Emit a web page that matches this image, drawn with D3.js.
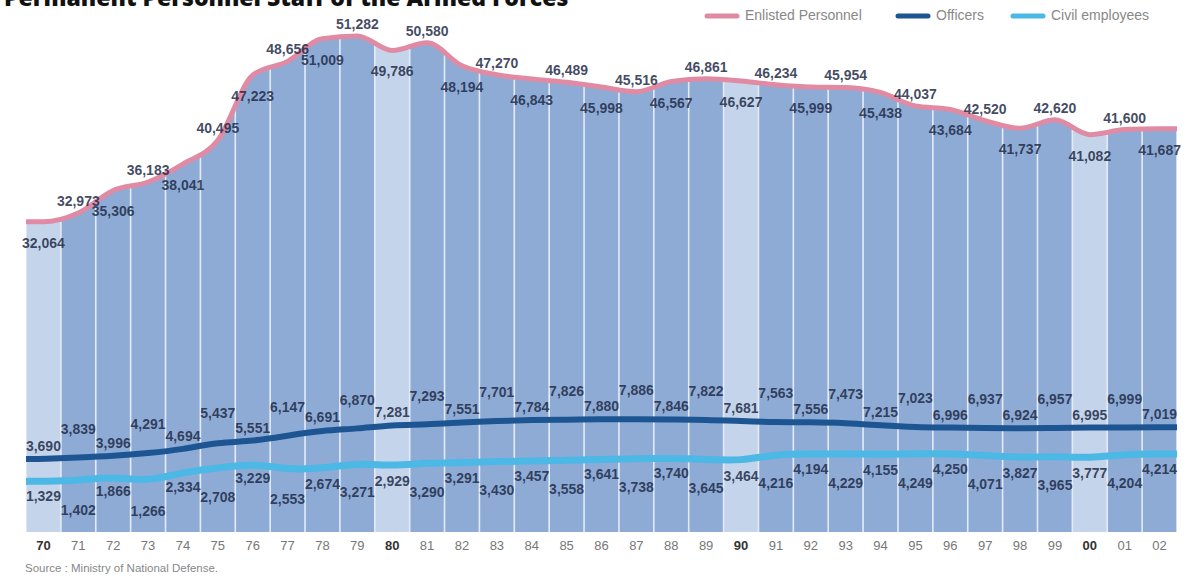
<!DOCTYPE html>
<html><head><meta charset="utf-8">
<script src="https://cdn.jsdelivr.net/npm/d3@7"></script>
<style>
html,body{margin:0;padding:0;background:#fff;}
svg{display:block;}
</style></head>
<body>
<svg id="chart" width="1192" height="578"></svg>
<script>
const years = ['70','71','72','73','74','75','76','77','78','79','80','81','82','83','84','85','86','87','88','89','90','91','92','93','94','95','96','97','98','99','00','01','02'];
const decadeYears = ['70','80','90','00'];
const enlisted = [32064,32973,35306,36183,38041,40495,47223,48656,51009,51282,49786,50580,48194,47270,46843,46489,45998,45516,46567,46861,46627,46234,45999,45954,45438,44037,43684,42520,41737,42620,41082,41600,41687];
const officers = [3690,3839,3996,4291,4694,5437,5551,6147,6691,6870,7281,7293,7551,7701,7784,7826,7880,7886,7846,7822,7681,7563,7556,7473,7215,7023,6996,6937,6924,6957,6995,6999,7019];
const civil = [1329,1402,1866,1266,2334,2708,3229,2553,2674,3271,2929,3290,3291,3430,3457,3558,3641,3738,3740,3645,3464,4216,4194,4229,4155,4249,4250,4071,3827,3965,3777,4204,4214];
const seriesNames = ['Enlisted Personnel','Officers','Civil employees'];
const titleText = 'Permanent Personnel Staff of the Armed Forces';
const sourceText = 'Source : Ministry of National Defense.';

const C = {pink:'#e08ba3', navy:'#1c5592', cyan:'#4cb8e6', col:'#8eabd6', colLight:'#c4d4ea', gap:'#e4ebf6', label:'#1f2c48'};

const svg = d3.select('#chart');
const x = d3.scaleBand().domain(years).range([26,1177]).padding(0);
const bw = x.bandwidth();
const yBig = d3.scaleLinear().domain([0,55000]).range([532,0]);
const ySmall = d3.scaleLinear().domain([0,10000]).range([494,399]);
const fmt = d3.format(',');
const cx = y => x(y) + bw/2;

function pts(vals){
  const p = years.map((yr,i)=>({x:cx(yr), v:vals[i]}));
  p.unshift({x:x.range()[0], v:vals[0]});
  p.push({x:x.range()[1], v:vals[vals.length-1]});
  return p;
}

// title (cut off at top, as in the original)
svg.append('text').attr('x',4).attr('y',6).text(titleText)
  .attr('font-family','Open Sans, sans-serif').attr('font-weight',800).attr('font-size',23).attr('fill','#111');

// legend
const legendColors=[C.pink,C.navy,C.cyan];
const legX=[707,898,1013];
seriesNames.forEach((n,i)=>{
  svg.append('line').attr('x1',legX[i]).attr('x2',legX[i]+30).attr('y1',16).attr('y2',16)
    .attr('stroke',legendColors[i]).attr('stroke-width',5).attr('stroke-linecap','round');
  svg.append('text').attr('x',legX[i]+38).attr('y',20).text(n)
    .attr('font-family','Liberation Sans Narrow, sans-serif').attr('font-size',14).attr('fill','#888');
});

// area clip
const ePts = pts(enlisted);
const area = d3.area().x(d=>d.x).y0(yBig(0)).y1(d=>yBig(d.v)).curve(d3.curveMonotoneX);
svg.append('defs').append('clipPath').attr('id','areaClip').append('path').attr('d',area(ePts));
const g = svg.append('g').attr('clip-path','url(#areaClip)');
g.append('rect').attr('x',x.range()[0]).attr('y',0).attr('width',x.range()[1]-x.range()[0]).attr('height',yBig(0)).attr('fill',C.gap);
g.selectAll('rect.col').data(years).join('rect').attr('class','col')
  .attr('x',d=>x(d)+0.8).attr('width',bw-1.6).attr('y',0).attr('height',yBig(0))
  .attr('fill',d=>decadeYears.includes(d)?C.colLight:C.col);

// lines
const lineBig = d3.line().x(d=>d.x).y(d=>yBig(d.v)).curve(d3.curveMonotoneX);
svg.append('path').attr('d',lineBig(ePts)).attr('fill','none').attr('stroke',C.pink).attr('stroke-width',5);
const lineSmall = d3.line().x(d=>d.x).y(d=>ySmall(d.v)).curve(d3.curveBasis);
svg.append('path').attr('d',lineSmall(pts(civil))).attr('fill','none').attr('stroke',C.cyan).attr('stroke-width',7);
svg.append('path').attr('d',lineSmall(pts(officers))).attr('fill','none').attr('stroke',C.navy).attr('stroke-width',6);

// value labels
const lf = 'Liberation Sans Narrow, sans-serif';
function labels(vals, yfn, offEven, offOdd){
  svg.append('g').selectAll('text').data(vals).join('text')
    .attr('x',(d,i)=>cx(years[i])).attr('y',(d,i)=>yfn(d)+(i%2===0?offEven:offOdd))
    .attr('text-anchor','middle').attr('font-family',lf).attr('font-size',14).attr('font-weight',700)
    .attr('fill',C.label).attr('fill-opacity',0.85).text(d=>fmt(d));
}
labels(enlisted, yBig, 26, -7);
labels(officers, ySmall, -8, -24);
labels(civil, ySmall, 20, 34);

// x axis labels
svg.append('g').selectAll('text').data(years).join('text')
  .attr('x',d=>cx(d)).attr('y',550).attr('text-anchor','middle')
  .attr('font-family',lf).attr('font-size',13)
  .attr('font-weight',d=>decadeYears.includes(d)?700:400)
  .attr('fill',d=>decadeYears.includes(d)?'#333':'#777').text(d=>d);

// source
svg.append('text').attr('x',25).attr('y',572).text(sourceText)
  .attr('font-family',lf).attr('font-size',11.5).attr('fill','#888');
</script>
</body></html>
